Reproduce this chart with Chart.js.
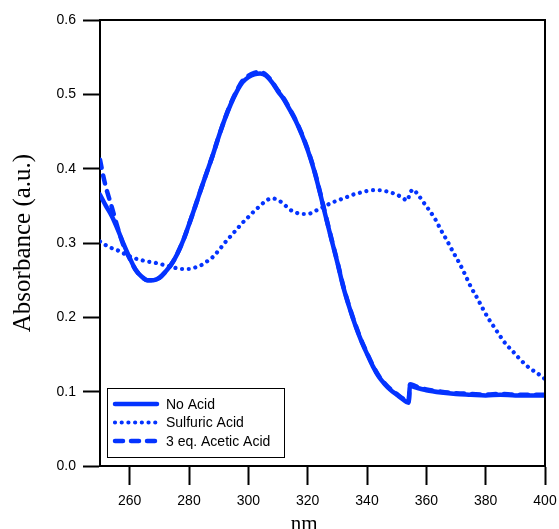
<!DOCTYPE html>
<html>
<head>
<meta charset="utf-8">
<script src="https://cdn.jsdelivr.net/npm/chart.js@4/dist/chart.umd.min.js"></script>
<style>
  html, body { margin: 0; padding: 0; background: #ffffff; }
  #wrap { width: 559px; height: 529px; position: relative; }
</style>
</head>
<body>
<div id="wrap"><canvas id="c" width="559" height="529"></canvas></div>
<script>
// ---- Data ----
const seriesNames = ["No Acid", "Sulfuric Acid", "3 eq. Acetic Acid"];

const noAcidNm  = [250,252,254,256,258,260,262,264,266,268,270,272,274,276,278,280,282,284,286,288,290,292,294,296,298,300,302,304,306,308,310,312,314,316,318,320,322,324,326,328,330,332,334,336,338,340,342,344,346,348,350,352,354,354.5,356,358,360,365,370,375,380,385,390,395,400];
const noAcidAbs = [0.365,0.350,0.336,0.318,0.298,0.280,0.264,0.255,0.250,0.250,0.253,0.261,0.271,0.285,0.303,0.325,0.348,0.372,0.395,0.418,0.443,0.466,0.486,0.503,0.516,0.523,0.527,0.528,0.525,0.516,0.504,0.493,0.479,0.464,0.446,0.425,0.400,0.370,0.337,0.305,0.274,0.241,0.214,0.190,0.169,0.151,0.134,0.120,0.110,0.102,0.096,0.090,0.085,0.108,0.106,0.104,0.102,0.099,0.097,0.096,0.095,0.096,0.095,0.095,0.095];

const sulfuricNm  = [250,252,254,256,258,260,262,264,266,268,270,272,274,276,278,280,282,284,286,288,290,292,294,296,298,300,302,304,306,308,310,312,314,316,318,320,322,324,326,328,330,332,334,336,338,340,342,344,346,348,350,352,353.5,354.5,355.5,357,359,361,363,365,367,369,371,373,375,377,379,381,383,385,387,389,391,393,395,397,399,400];
const sulfuricAbs = [0.302,0.297,0.293,0.290,0.286,0.282,0.279,0.277,0.275,0.274,0.272,0.270,0.268,0.266,0.265,0.265,0.267,0.270,0.275,0.281,0.290,0.300,0.309,0.318,0.327,0.335,0.343,0.350,0.357,0.360,0.358,0.352,0.345,0.341,0.339,0.339,0.342,0.346,0.350,0.354,0.357,0.360,0.363,0.366,0.368,0.370,0.371,0.371,0.370,0.368,0.365,0.361,0.357,0.367,0.372,0.366,0.355,0.344,0.332,0.317,0.303,0.288,0.274,0.258,0.241,0.227,0.212,0.198,0.186,0.174,0.163,0.155,0.146,0.138,0.131,0.126,0.120,0.117];

const aceticNm  = [250,251,252,254,256,258,260,262,264,266,268,270,272,274,276,278,280,282,284,286,288,290,292,294,296,298,300,302,304,306,308,310,312,314,316,318,320,322,324,326,328,330,332,334,336,338,340,342,344,346,348,350,352,354,354.5,356,358,360,365,370,375,380,385,390,395,400];
const aceticAbs = [0.412,0.392,0.375,0.348,0.320,0.296,0.279,0.264,0.255,0.250,0.250,0.253,0.261,0.271,0.285,0.303,0.325,0.348,0.372,0.395,0.418,0.443,0.466,0.487,0.504,0.518,0.525,0.529,0.530,0.526,0.517,0.505,0.494,0.480,0.465,0.447,0.426,0.401,0.371,0.338,0.306,0.275,0.242,0.215,0.191,0.170,0.152,0.135,0.121,0.111,0.103,0.097,0.091,0.086,0.110,0.108,0.105,0.103,0.100,0.098,0.097,0.096,0.097,0.096,0.096,0.096];

const xTickValues = [260,280,300,320,340,360,380,400];
const yTickValues = [0.0,0.1,0.2,0.3,0.4,0.5,0.6];

// ---- Styling ----
const BLUE = '#0433ff';
function pts(xs, ys) { return xs.map((x, i) => ({ x: x, y: ys[i] })); }

const datasets = [
  { label: seriesNames[0], data: pts(noAcidNm, noAcidAbs), borderColor: BLUE, borderWidth: 4.5,
    borderDash: [], borderCapStyle: 'round', borderJoinStyle: 'round' },
  { label: seriesNames[1], data: pts(sulfuricNm, sulfuricAbs), borderColor: BLUE, borderWidth: 4.2,
    borderDash: [0.01, 6.7], borderCapStyle: 'round', borderJoinStyle: 'round' },
  { label: seriesNames[2], data: pts(aceticNm, aceticAbs), borderColor: BLUE, borderWidth: 4.5,
    borderDash: [8, 8], borderCapStyle: 'round', borderJoinStyle: 'round' }
];
datasets.forEach(d => { d.pointRadius = 0; d.fill = false; d.cubicInterpolationMode = 'monotone'; d.tension = 0.4; });

const framePlugin = {
  id: 'frame',
  afterDatasetsDraw(chart) {
    const { ctx, chartArea: a } = chart;
    ctx.save();
    ctx.strokeStyle = '#000';
    ctx.lineWidth = 2;
    ctx.beginPath();
    ctx.moveTo(a.left, a.top);
    ctx.lineTo(a.right, a.top);
    ctx.lineTo(a.right, a.bottom);
    ctx.stroke();
    ctx.restore();
  }
};

const boxLegend = {
  id: 'boxLegend',
  afterDraw(chart) {
    const { ctx } = chart;
    const xs = chart.scales.x;
    const left = xs.left + 7, top = 388, w = 177, h = 69;
    ctx.save();
    ctx.fillStyle = '#fff';
    ctx.fillRect(left, top, w, h);
    ctx.strokeStyle = '#000';
    ctx.lineWidth = 1;
    ctx.strokeRect(left + 0.5, top + 0.5, w, h);
    ctx.font = '14px "Liberation Sans", Arial, sans-serif';
    ctx.textBaseline = 'middle';
    ctx.textAlign = 'left';
    chart.data.datasets.forEach((d, i) => {
      const y = top + 16 + i * 18.5;
      ctx.strokeStyle = d.borderColor;
      ctx.lineWidth = d.borderWidth;
      ctx.lineCap = d.borderCapStyle;
      ctx.setLineDash(d.borderDash || []);
      ctx.beginPath();
      ctx.moveTo(left + 8, y);
      ctx.lineTo(left + 50, y);
      ctx.stroke();
      ctx.setLineDash([]);
      ctx.fillStyle = '#000';
      ctx.fillText(d.label, left + 59, y + 1);
    });
    ctx.restore();
  }
};

new Chart(document.getElementById('c'), {
  type: 'line',
  data: { datasets: datasets },
  options: {
    responsive: false,
    animation: false,
    events: [],
    layout: { padding: { top: 20, right: 14, left: 0, bottom: 0 } },
    plugins: { legend: { display: false }, tooltip: { enabled: false } },
    scales: {
      x: {
        type: 'linear', min: 250, max: 400,
        afterBuildTicks: s => { s.ticks = xTickValues.map(v => ({ value: v })); },
        afterFit: s => { s.height = 63; s.paddingRight = 0; s.paddingLeft = 0; },
        grid: { drawOnChartArea: false, drawTicks: true, tickLength: 19, tickWidth: 2, tickColor: '#000' },
        border: { display: true, color: '#000', width: 2 },
        ticks: { color: '#000', padding: 8, maxRotation: 0, font: { family: '"Liberation Sans", Arial, sans-serif', size: 14 } },
        title: { display: true, text: 'nm       ', color: '#000', padding: { top: 0, bottom: -8 },
                 font: { family: '"Liberation Serif", "Times New Roman", serif', size: 21 } }
      },
      y: {
        type: 'linear', min: 0, max: 0.6,
        afterBuildTicks: s => { s.ticks = yTickValues.map(v => ({ value: v })); },
        afterFit: s => { s.width = 100; },
        grid: { drawOnChartArea: false, drawTicks: true, tickLength: 17, tickWidth: 2, tickColor: '#000' },
        border: { display: true, color: '#000', width: 2 },
        ticks: { color: '#000', padding: 7, callback: v => Number(v).toFixed(1),
                 font: { family: '"Liberation Sans", Arial, sans-serif', size: 14 } },
        title: { display: true, text: 'Absorbance (a.u.)', color: '#000', padding: { top: 8, bottom: 0 },
                 font: { family: '"Liberation Serif", "Times New Roman", serif', size: 25 } }
      }
    }
  },
  plugins: [framePlugin, boxLegend]
});
</script>
</body>
</html>
